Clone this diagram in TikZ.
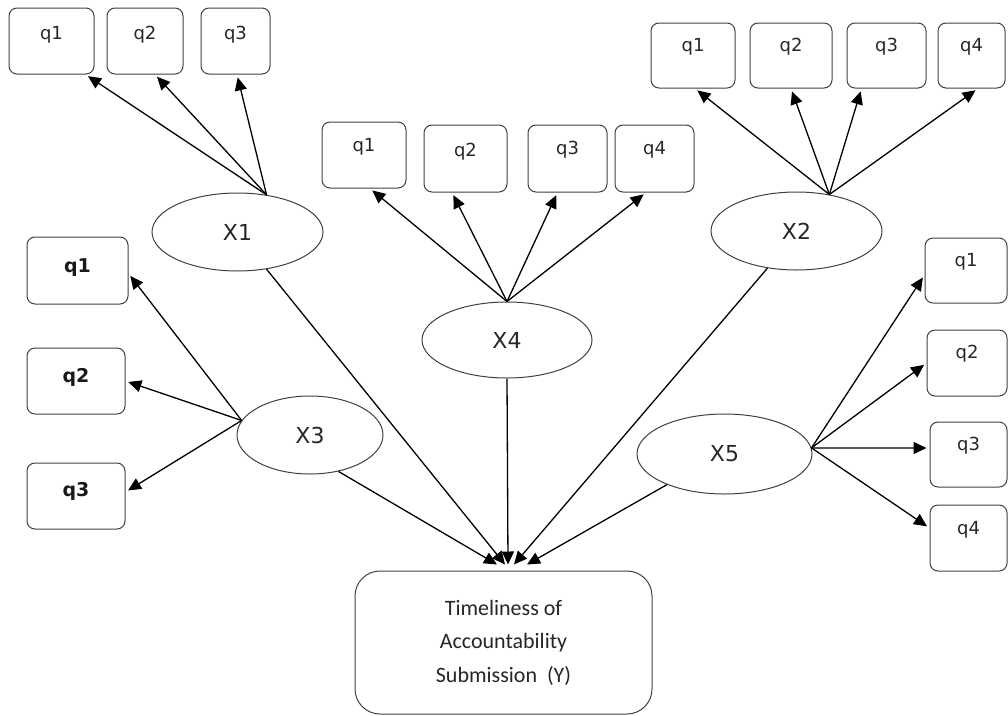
\documentclass[tikz,border=0pt]{standalone}
\usepackage{fontspec}
\setmainfont{DejaVu Sans}
\newfontfamily\ycal{Carlito}
\usetikzlibrary{arrows.meta,shapes.geometric}
\begin{document}
\begin{tikzpicture}[x=1pt,y=-1pt,
  qbox/.style n args={2}{draw=black!75, line width=1pt, rounded corners=8pt,
    minimum width=#1pt, minimum height=#2pt, inner sep=0pt},
  qlab/.style={font=\fontsize{18}{20}\selectfont, text=black!85, inner sep=0pt},
  qlabb/.style={font=\fontsize{19}{21}\selectfont\bfseries, text=black!90, inner sep=0pt},
  lat/.style n args={2}{ellipse, draw=black!75, line width=1pt, minimum width=#1pt,
    minimum height=#2pt, inner sep=0pt, font=\fontsize{22}{24}\selectfont, text=black!85},
  arr/.style={draw=black, line width=1.3pt, -{Triangle[length=13pt,width=12pt]}, shorten >=3pt},
  arry/.style={draw=black, line width=1.3pt, -{Triangle[length=13pt,width=12pt]}}]
\useasboundingbox (0,0) rectangle (1008,715);

% latent variables
\node[lat={171}{78}] (X1) at (237.5,232) {X1};
\node[lat={171}{78}] (X2) at (796.5,231) {X2};
\node[lat={170}{76}] (X4) at (507,340) {X4};
\node[lat={146}{78}] (X3) at (310,435) {X3};
\node[lat={175}{80}] (X5) at (724.5,454) {X5};

% outcome
\node[draw=black!75, line width=1pt, rounded corners=25pt, minimum width=297pt,
  minimum height=143pt, align=center, text=black!85,
  font=\ycal\fontsize{22}{33.5}\selectfont] (Y) at (503.5,642.5)
  {Timeliness of\\Accountability\\Submission~~(Y)};

% X1 items
\node[qbox={85}{66}] (a1) at (51.5,41) {};
\node[qbox={76}{66}] (a2) at (145,41) {};
\node[qbox={69}{66}] (a3) at (235.5,41) {};
\node[qlab] at ([yshift=-27pt]a1.north) {q1};
\node[qlab] at ([yshift=-27pt]a2.north) {q2};
\node[qlab] at ([yshift=-27pt]a3.north) {q3};

% X2 items
\node[qbox={84}{65}] (b1) at (693,55.5) {};
\node[qbox={82}{65}] (b2) at (791,55.5) {};
\node[qbox={79}{65}] (b3) at (886.5,55.5) {};
\node[qbox={67}{65}] (b4) at (971.5,55.5) {};
\node[qlab] at ([yshift=-24pt]b1.north) {q1};
\node[qlab] at ([yshift=-24pt]b2.north) {q2};
\node[qlab] at ([yshift=-24pt]b3.north) {q3};
\node[qlab] at ([yshift=-24pt]b4.north) {q4};

% X4 items
\node[qbox={84}{66}] (c1) at (364,155) {};
\node[qbox={83}{67}] (c2) at (465.5,158.5) {};
\node[qbox={79}{67}] (c3) at (567.5,158.5) {};
\node[qbox={79}{67}] (c4) at (654.5,158.5) {};
\node[qlab] at ([yshift=-25pt]c1.north) {q1};
\node[qlab] at ([yshift=-27pt]c2.north) {q2};
\node[qlab] at ([yshift=-25pt]c3.north) {q3};
\node[qlab] at ([yshift=-25pt]c4.north) {q4};

% X3 items
\node[qbox={101}{67}] (d1) at (77.5,270.5) {};
\node[qbox={98}{66}] (d2) at (76,381) {};
\node[qbox={98}{66}] (d3) at (76,496) {};
\node[qlabb] at ([yshift=-31pt]d1.north) {q1};
\node[qlabb] at ([yshift=-30pt]d2.north) {q2};
\node[qlabb] at ([yshift=-29pt]d3.north) {q3};

% X5 items
\node[qbox={82}{65}] (e1) at (966,270.5) {};
\node[qbox={80}{66}] (e2) at (967,363) {};
\node[qbox={77}{65}] (e3) at (968.5,454.5) {};
\node[qbox={77}{66}] (e4) at (968.5,538) {};
\node[qlab] at ([yshift=-24pt]e1.north) {q1};
\node[qlab] at ([yshift=-24pt]e2.north) {q2};
\node[qlab] at ([yshift=-24pt]e3.north) {q3};
\node[qlab] at ([yshift=-25pt]e4.north) {q4};

% loadings
\draw[arr] (X1.52) -- ([xshift=-9pt]a1.south east);
\draw[arr] (X1.52) -- ([xshift=10pt]a2.south);
\draw[arr] (X1.52) -- ([xshift=1.5pt]a3.south);

\draw[arr] (X2.48) -- ([xshift=2pt]b1.south);
\draw[arr] (X2.48) -- (b2.south);
\draw[arr] (X2.48) -- ([xshift=15pt]b3.south west);
\draw[arr] (X2.48) -- ([xshift=6.5pt]b4.south);

\draw[arr] (X4.north) -- ([xshift=6pt]c1.south);
\draw[arr] (X4.north) -- ([xshift=-13.5pt]c2.south);
\draw[arr] (X4.north) -- ([xshift=-10pt]c3.south);
\draw[arr] (X4.north) -- ([xshift=-8.5pt]c4.south);

\draw[arr] (X3.168) -- ([yshift=-3pt]d1.east);
\draw[arr] (X3.168) -- (d2.east);
\draw[arr] (X3.168) -- ([yshift=4pt]d3.east);

\draw[arr] (X5.4) -- ([yshift=-4.5pt]e1.west);
\draw[arr] (X5.4) -- (e2.west);
\draw[arr] (X5.4) -- ([yshift=6.5pt]e3.west);
\draw[arr] (X5.4) -- ([yshift=10pt]e4.west);

% structural paths
\draw[arry] (X3.-52) -- ([xshift=-6.5pt,yshift=6pt]Y.north);
\draw[arry] (X1.-52) -- ([xshift=1.5pt,yshift=6pt]Y.north);
\draw[arry] (X4.south) -- ([xshift=4.5pt,yshift=6pt]Y.north);
\draw[arry] (X2.232) -- ([xshift=10.5pt,yshift=6pt]Y.north);
\draw[arry] (X5.208) -- ([xshift=23.5pt,yshift=6pt]Y.north);
\end{tikzpicture}
\end{document}
